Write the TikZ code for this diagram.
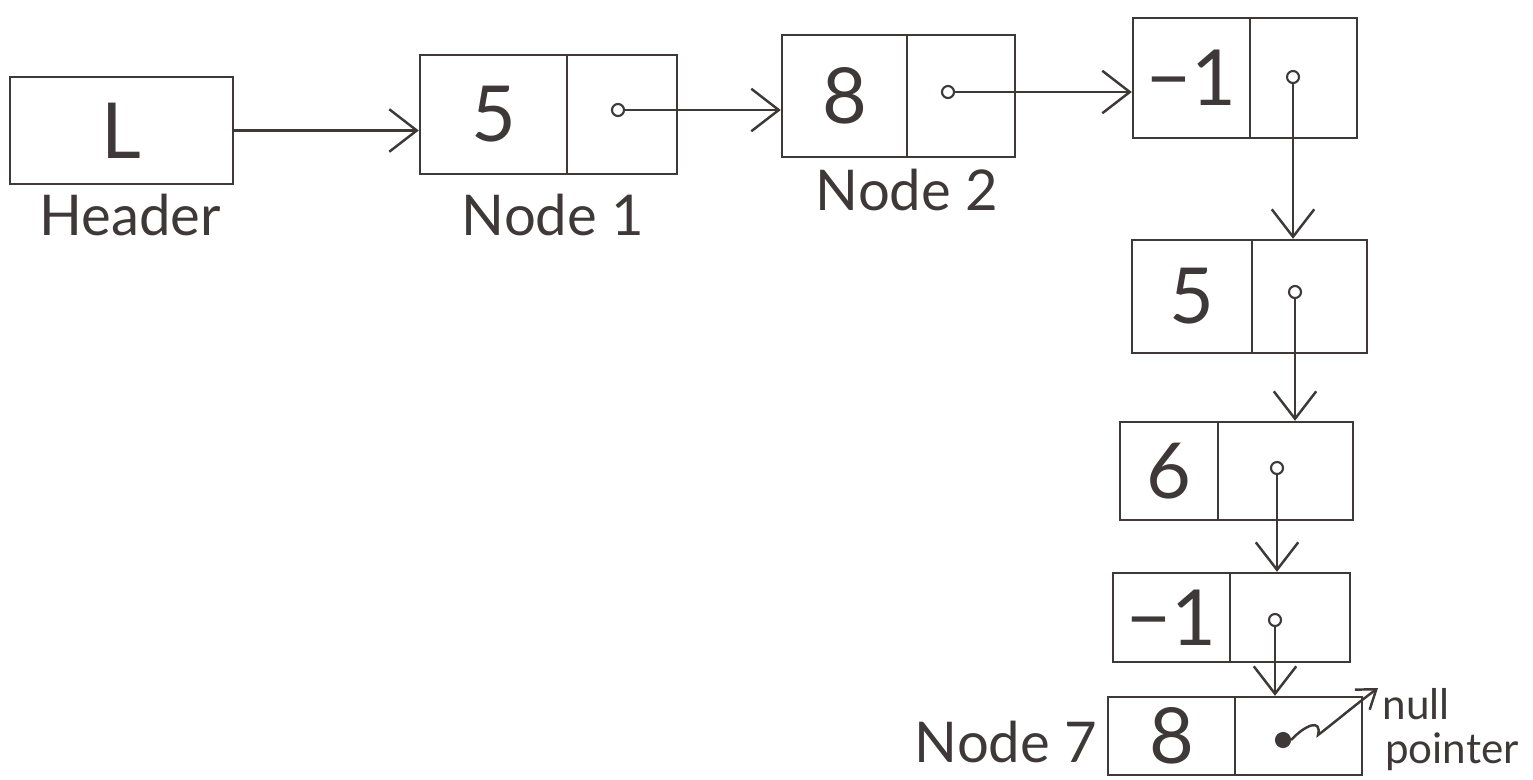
\documentclass[tikz,border=0pt]{standalone}
\usepackage{fontspec}
\setmainfont{Lato}
\usetikzlibrary{arrows.meta}
\definecolor{ink}{HTML}{3E3838}
\tikzset{
  ink line/.style={draw=ink, line width=1.4pt},
  cell/.style={ink line, rectangle, inner sep=0pt, font=\fontsize{44}{48}\selectfont, text=ink},
  ptrdot/.style={circle, draw=ink, line width=1.2pt, minimum size=0.24cm, inner sep=0pt},
  nulldot/.style={circle, draw=ink, fill=ink, line width=1.2pt, minimum size=0.28cm, inner sep=0pt},
  lbl/.style={font=\fontsize{32}{36}\selectfont, text=ink, inner sep=0pt},
  small lbl/.style={font=\fontsize{24}{28}\selectfont, text=ink, inner sep=0pt},
  link/.style={ink line, -{Straight Barb[length=0.55cm, width=0.85cm, line width=1.4pt]}},
}
\begin{document}
\begin{tikzpicture}[x=0.02cm, y=-0.02cm]
\path[use as bounding box] (0,0) rectangle (1533,779);
% Header
\node[cell, minimum width=4.46cm, minimum height=2.14cm] (h) at (121.5,130.5) {L};
\node[lbl] (hl) at (130,215) {Header};
% Node 1
\node[cell, minimum width=2.94cm, minimum height=2.38cm] (n1a) at (493.5,114.5) {5};
\node[cell, minimum width=2.20cm, minimum height=2.38cm] (n1b) at (622,114.5) {};
\node[ptrdot] (n1p) at (618,110) {};
\node[lbl] (n1l) at (553,215) {Node 1};
% Node 2
\node[cell, minimum width=2.50cm, minimum height=2.44cm] (n2a) at (844.5,96) {8};
\node[cell, minimum width=2.16cm, minimum height=2.44cm] (n2b) at (961,96) {};
\node[ptrdot] (n2p) at (948,92) {};
\node[lbl] (n2l) at (907,190) {Node 2};
% Node 3
\node[cell, minimum width=2.34cm, minimum height=2.40cm] (n3a) at (1191.5,78) {−1};
\node[cell, minimum width=2.14cm, minimum height=2.40cm] (n3b) at (1303.5,78) {};
\node[ptrdot] (n3p) at (1293,77) {};
% Node 4
\node[cell, minimum width=2.40cm, minimum height=2.26cm] (n4a) at (1192,296.5) {5};
\node[cell, minimum width=2.30cm, minimum height=2.26cm] (n4b) at (1309.5,296.5) {};
\node[ptrdot] (n4p) at (1295,292) {};
% Node 5
\node[cell, minimum width=1.96cm, minimum height=1.96cm] (n5a) at (1169,471) {6};
\node[cell, minimum width=2.70cm, minimum height=1.96cm] (n5b) at (1285.5,471) {};
\node[ptrdot] (n5p) at (1277,468) {};
% Node 6
\node[cell, minimum width=2.34cm, minimum height=1.78cm] (n6a) at (1171.5,617.5) {−1};
\node[cell, minimum width=2.40cm, minimum height=1.78cm] (n6b) at (1290,617.5) {};
\node[ptrdot] (n6p) at (1275,620) {};
% Node 7
\node[cell, minimum width=2.54cm, minimum height=1.56cm] (n7a) at (1171.5,736) {8};
\node[cell, minimum width=2.54cm, minimum height=1.56cm] (n7b) at (1298.5,736) {};
\node[nulldot] (n7p) at (1283,740) {};
\node[lbl] (n7l) at (1006,742) {Node 7};
\node[small lbl] (nullt) at (1416,704) {null};
\node[small lbl] (ptrt) at (1452,752) {pointer};
\coordinate (nullend) at (1378,688);
% Links
\draw[link] (h.east) -- (h.east -| n1a.west);
\draw[link] (n1p.east) -- (n1p -| n2a.west);
\draw[link] (n2p.east) -- (n2p -| n3a.west);
\draw[link] (n3p.south) -- (n3p |- n4b.north);
\draw[link] (n4p.south) -- (n4p |- n5b.north);
\draw[link] (n5p.south) -- (n5p |- n6b.north);
\draw[link] (n6p.south) -- (n6p |- n7b.north);
\draw[ink line, -{Straight Barb[length=0.35cm, width=0.5cm, line width=1.4pt]}]
  (n7p.east) .. controls (1305,725) and (1322,718) .. (1318,735)
  .. controls (1335,722) and (1355,705) .. (nullend);
\end{tikzpicture}
\end{document}
